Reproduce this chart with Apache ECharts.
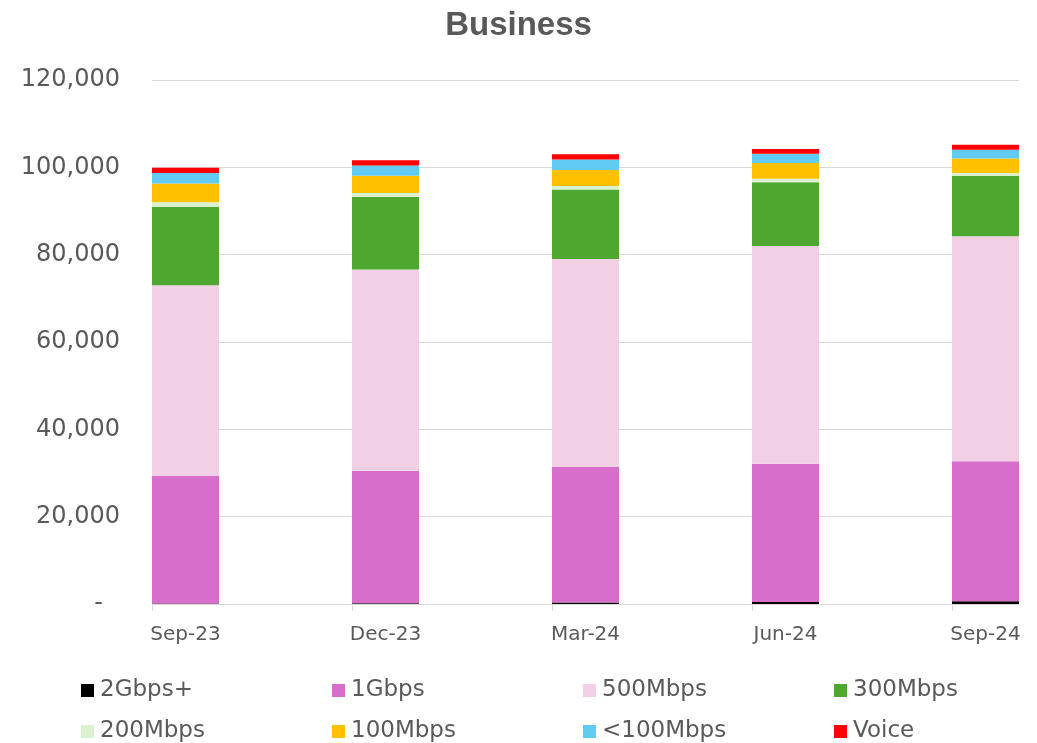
<!DOCTYPE html>
<html>
<head>
<meta charset="utf-8">
<script src="https://cdn.jsdelivr.net/npm/echarts@6/dist/echarts.min.js"></script>
<style>html,body{margin:0;padding:0;background:#fff}#c{width:1037px;height:743px}</style>
</head>
<body>
<div id="c"></div>
<script>
var categories = ['Sep-23', 'Dec-23', 'Mar-24', 'Jun-24', 'Sep-24'];
var seriesNames = ['2Gbps+', '1Gbps', '500Mbps', '300Mbps', '200Mbps', '100Mbps', '<100Mbps', 'Voice'];
var s2Gbps = [100, 200, 350, 450, 650];
var s1Gbps = [29200, 30300, 31050, 31650, 32050];
var s500Mbps = [43700, 46100, 47600, 49900, 51500];
var s300Mbps = [18000, 16600, 15900, 14600, 13900];
var s200Mbps = [1000, 900, 800, 800, 600];
var s100Mbps = [4300, 4000, 3700, 3600, 3300];
var sLt100Mbps = [2400, 2300, 2400, 2100, 2000];
var sVoice = [1200, 1200, 1200, 1100, 1200];
var yTicks = [0, 20000, 40000, 60000, 80000, 100000, 120000];

var colors = ['#000000', '#D86ECC', '#F1D0E4', '#4EA72E', '#DAF2D0', '#FFC000', '#61CBF3', '#FF0000'];
var values = [s2Gbps, s1Gbps, s500Mbps, s300Mbps, s200Mbps, s100Mbps, sLt100Mbps, sVoice];
var txt = '#595959';
var grid = '#d9d9d9';

var chart = echarts.init(document.getElementById('c'), null, {renderer: 'canvas'});
var series = seriesNames.map(function (n, i) {
  return {
    name: n, type: 'bar', stack: 'total', data: values[i],
    xAxisIndex: 0, yAxisIndex: 0, barWidth: 67,
    itemStyle: {color: colors[i]}, emphasis: {disabled: true}
  };
});
chart.setOption({
  animation: false,
  backgroundColor: '#ffffff',
  color: colors,
  title: {
    text: 'Business', left: 'center', top: 4,
    textStyle: {fontFamily: 'Liberation Sans', fontWeight: 'bold', fontSize: 33, color: txt}
  },
  legend: {
    data: seriesNames, left: 81, top: 670, width: 1010, padding: 0,
    itemWidth: 13, itemHeight: 13, itemGap: 0, icon: 'rect', selectedMode: false,
    textStyle: {fontFamily: 'DejaVu Sans', fontSize: 23, color: txt, width: 232, lineHeight: 41, padding: [0, 0, 0, 1]}
  },
  grid: [
    {left: 185.5, right: 51.5, top: 80, bottom: 139},
    {left: 152, right: 18, top: 80, bottom: 139}
  ],
  xAxis: [
    {
      type: 'category', gridIndex: 0, data: categories, boundaryGap: false,
      axisLine: {show: false}, axisTick: {show: false}, splitLine: {show: false},
      axisLabel: {color: txt, fontFamily: 'DejaVu Sans', fontSize: 20, margin: 21}
    },
    {
      type: 'value', gridIndex: 1, min: 0, max: 4.335, interval: 1,
      axisLine: {show: true, lineStyle: {color: grid, width: 1}},
      axisTick: {show: true, length: 7, lineStyle: {color: grid}, customValues: [0, 1, 2, 3, 4]},
      axisLabel: {show: false}, splitLine: {show: false}
    }
  ],
  yAxis: [
    {
      type: 'value', gridIndex: 0, min: yTicks[0], max: yTicks[yTicks.length - 1], interval: 20000,
      axisLine: {show: false}, axisTick: {show: false}, axisLabel: {show: false}, splitLine: {show: false}
    },
    {
      type: 'value', gridIndex: 1, min: yTicks[0], max: yTicks[yTicks.length - 1], interval: 20000,
      axisLine: {show: false}, axisTick: {show: false},
      splitLine: {show: true, lineStyle: {color: grid, width: 1}},
      axisLabel: {
        color: txt, fontFamily: 'DejaVu Sans', fontSize: 24, margin: 32,
        formatter: function (v) { return v === 0 ? '{d|-}' : v.toLocaleString('en-US'); },
        rich: {d: {color: txt, fontFamily: 'DejaVu Sans', fontSize: 24, padding: [0, 17, 0, 0]}}
      }
    }
  ],
  series: series
});
</script>
</body>
</html>
